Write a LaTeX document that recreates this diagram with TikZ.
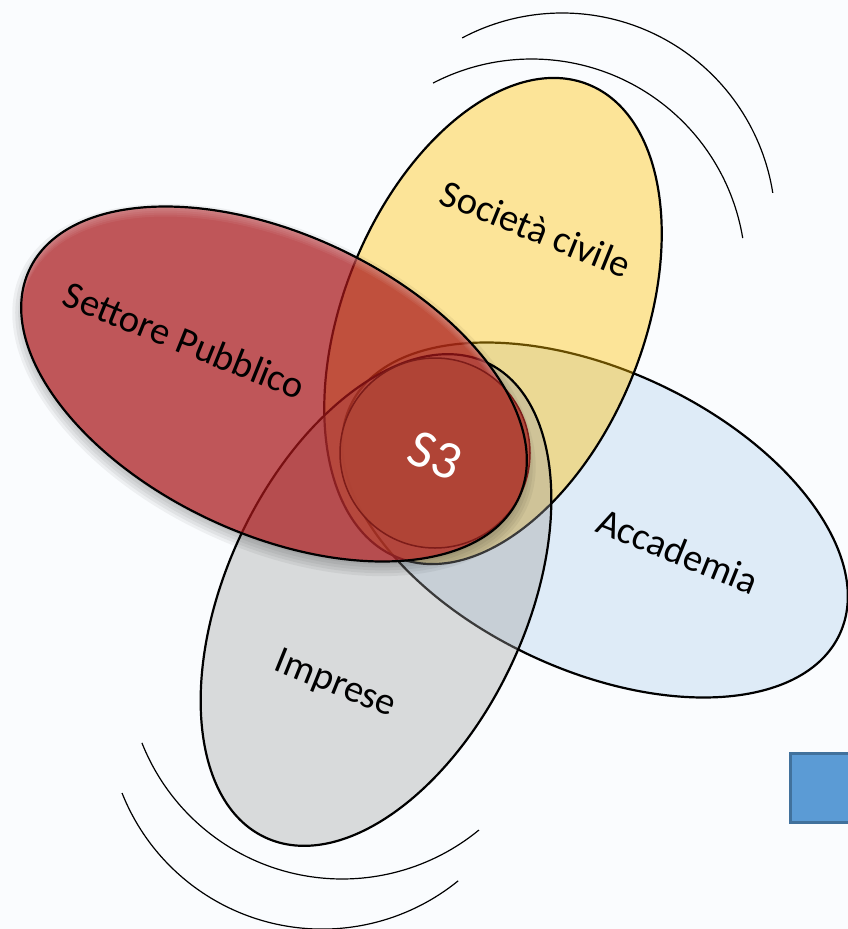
\documentclass[tikz,border=0pt]{standalone}
\usepackage{fontspec}
\setmainfont{Carlito}
\usetikzlibrary{shapes.geometric}
\definecolor{bgc}{RGB}{250,252,254}
\definecolor{bluef}{RGB}{222,235,247}
\definecolor{yellowf}{RGB}{255,192,0}
\definecolor{grayf}{RGB}{160,160,160}
\definecolor{redf}{RGB}{169,23,26}
\definecolor{s3f}{RGB}{176,68,54}
\definecolor{s3line}{RGB}{125,28,25}
\definecolor{sqf}{RGB}{91,155,213}
\definecolor{sqd}{RGB}{65,113,156}
\tikzset{
  petal/.style={ellipse, inner sep=0pt, draw=black, line width=2.2pt},
  lbl/.style={font=\fontsize{38.5}{46}\selectfont, anchor=base, rotate=-22, inner sep=0pt},
  swirl/.style={draw=black, line width=1.2pt},
}
\begin{document}
\begin{tikzpicture}[x=1pt,y=1pt]
\fill[bgc] (0,0) rectangle (848,-929);
\useasboundingbox (0,0) rectangle (848,-929);

% swirl arcs
\coordinate (tri) at (531.6,-273);
\coordinate (tro) at (562.2,-226.2);
\coordinate (bli) at (342.2,-663.6);
\coordinate (blo) at (322.3,-713.7);
\draw[swirl] ([shift={(117.4:214)}]tri) arc[start angle=117.4,end angle=9.4,radius=214];
\draw[swirl] ([shift={(118:213.2)}]tro) arc[start angle=118,end angle=9,radius=213.2];
\draw[swirl] ([shift={(201.6:215.4)}]bli) arc[start angle=201.6,end angle=309.4,radius=215.4];
\draw[swirl] ([shift={(201.6:215.4)}]blo) arc[start angle=201.6,end angle=309.1,radius=215.4];

% blue square (cut by the right edge)
\begin{scope}
  \clip (0,0) rectangle (848,-929);
  \node[draw=sqd, fill=sqf, line width=2.5pt, minimum width=69pt, minimum height=69pt, inner sep=0pt, anchor=north west] (sq) at (789,-752) {};
\end{scope}

% petals
\node[petal, fill=bluef, minimum width=540pt, minimum height=300pt, rotate=-25] (acc) at (595,-520) {};
\node[petal, fill=yellowf, fill opacity=0.4, minimum width=510pt, minimum height=300pt, rotate=68] (soc) at (493,-321) {};
\node[petal, fill=grayf, fill opacity=0.37, minimum width=524pt, minimum height=300pt, rotate=65] (imp) at (376,-600) {};

% shadow of the red petal
\begin{scope}[shift={(274,-384)},rotate=-25,even odd rule]
  \clip (-1300,1300) -- (1300,1300) -- (1300,-1300) -- (-1300,-1300) -- cycle (0,0) ellipse[x radius=270,y radius=150];
  \foreach \d in {0,3,...,15} \fill[black,opacity=0.05] (2.5,-5.4) ellipse[x radius=264+\d, y radius=144+\d];
\end{scope}

% red petal
\node[ellipse, inner sep=0pt, minimum width=540pt, minimum height=300pt, rotate=-25, fill=redf, fill opacity=0.72] (pub) at (274,-384) {};
% bevel highlight
\begin{scope}[shift={(274,-384)},rotate=-25]
  \clip (0,0) ellipse[x radius=270,y radius=150];
  \foreach \s in {2,4,6,8,10} \fill[white,opacity=0.06,even odd rule] (-1300,1300) -- (1300,1300) -- (1300,-1300) -- (-1300,-1300) -- cycle ({0.4226*\s},{-0.9063*\s}) ellipse[x radius=270,y radius=150];
\end{scope}

% S3 circle
\node[circle, minimum size=190pt, inner sep=0pt, fill=s3f, fill opacity=0.95, draw=s3line, line width=1.5pt] (s3c) at (435,-453) {};

% red petal outline
\draw[line width=2.2pt, shift={(274,-384)}, rotate=-25] (0,0) ellipse[x radius=270,y radius=150];

% labels
\node[lbl] (lsoc) at (531,-241) {Società civile};
\node[lbl] (lpub) at (179.5,-352.5) {Settore Pubblico};
\node[lbl] (lacc) at (673,-563) {Accademia};
\node[lbl] (limp) at (331.8,-693.2) {Imprese};
\node[font=\fontsize{54}{60}\selectfont, text=white, anchor=base, rotate=-22, inner sep=0pt] (ls3) at (429,-471.5) {S3};
\end{tikzpicture}
\end{document}
